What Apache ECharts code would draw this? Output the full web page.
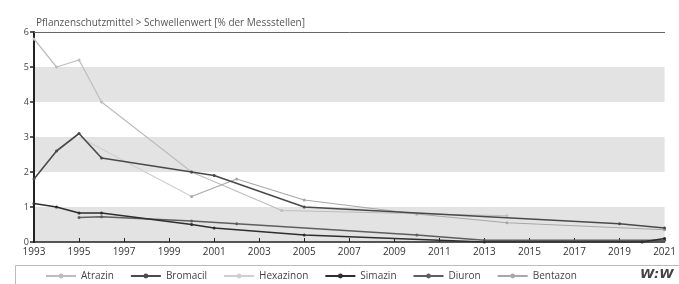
<!DOCTYPE html>
<html><head><meta charset="utf-8">
<script src="https://cdn.jsdelivr.net/npm/echarts@6/dist/echarts.min.js"></script>
<style>html,body{margin:0;padding:0;background:#fff}#c{width:679px;height:284px}</style>
</head><body><div id="c"></div>
<script>
const titleText = 'Pflanzenschutzmittel > Schwellenwert [% der Messstellen]';
const seriesNames = ['Atrazin','Bromacil','Hexazinon','Simazin','Diuron','Bentazon'];
const atrazin   = [[1993,5.8],[1994,5.0],[1995,5.2],[1996,4.0],[2000,2.0],[2004,0.9],[2014,0.75]];
const bromacil  = [[1993,1.8],[1994,2.6],[1995,3.1],[1996,2.4],[2000,2.0],[2001,1.9],[2005,1.0],[2019,0.52],[2021,0.4]];
const hexazinon = [[1995,3.0],[2000,1.3]];
const simazin   = [[1993,1.1],[1994,1.0],[1995,0.83],[1996,0.83],[2000,0.5],[2001,0.4],[2005,0.2],[2013,0.0],[2020,0.0],[2021,0.1]];
const diuron    = [[1995,0.7],[1996,0.72],[2000,0.6],[2002,0.52],[2010,0.2],[2013,0.05],[2021,0.05]];
const bentazon  = [[2000,1.3],[2002,1.8],[2005,1.2],[2010,0.8],[2014,0.55],[2021,0.35]];
const yTicks = [0,1,2,3,4,5,6];
const xMin = 1993, xMax = 2021, xStep = 2;

const colors = ['#bdbdbd','#4a4a4a','#cfcfcf','#2e2e2e','#5e5e5e','#a8a8a8'];
const symbols = ['circle','circle','none','circle','circle','circle'];
const datas = [atrazin,bromacil,hexazinon,simazin,diuron,bentazon];
const widths = [1.2,1.6,1.2,1.6,1.4,1.2];

const chart = echarts.init(document.getElementById('c'));
chart.setOption({
  animation:false,
  textStyle:{fontFamily:'Open Sans'},
  title:{text:titleText,left:31,top:13,textStyle:{fontSize:10,fontWeight:'normal',color:'#555'}},
  grid:{left:34,right:7,top:32,bottom:42},
  xAxis:[{type:'value',min:xMin,max:xMax,interval:xStep,
    axisLine:{lineStyle:{color:'#222',width:1.5}},
    axisTick:{show:true,length:4,inside:true,lineStyle:{color:'#222'}},
    axisLabel:{color:'#333',fontSize:10,margin:5,formatter:v=>String(v)},
    splitLine:{show:false}},
   {type:'value',position:'top',min:xMin,max:xMax,axisLine:{show:true,onZero:false,lineStyle:{color:'#666',width:1}},
    axisTick:{show:false},axisLabel:{show:false},splitLine:{show:false}}],
  yAxis:{type:'value',min:0,max:6,interval:1,
    axisLine:{show:true,lineStyle:{color:'#222',width:2}},
    axisTick:{show:true,length:4,lineStyle:{color:'#222',width:1.5}},
    axisLabel:{color:'#444',fontSize:9,margin:5,formatter:v=>yTicks.includes(v)?String(v):''},
    splitLine:{show:false},
    splitArea:{show:true,areaStyle:{color:['#e3e3e3','#ffffff']}}},
  legend:{top:266,left:40,itemWidth:30,itemHeight:6,itemGap:16,
    textStyle:{color:'#444',fontSize:10},data:seriesNames},
  graphic:[
    {type:'rect',left:13,top:263,shape:{width:690,height:24},style:{fill:'none',stroke:'#bbb',lineWidth:1}},
    {type:'text',left:640,top:268,style:{text:'W:W',font:'italic bold 13px DejaVu Sans',fill:'#444'}}
  ],
  series: seriesNames.map((n,i)=>({name:n,type:'line',data:datas[i],connectNulls:true,
    symbol:symbols[i],symbolSize:3,showSymbol:symbols[i]!=='none',
    lineStyle:{color:colors[i],width:widths[i]},itemStyle:{color:colors[i]},z:i===1||i===3?5:3}))
});
</script></body></html>
